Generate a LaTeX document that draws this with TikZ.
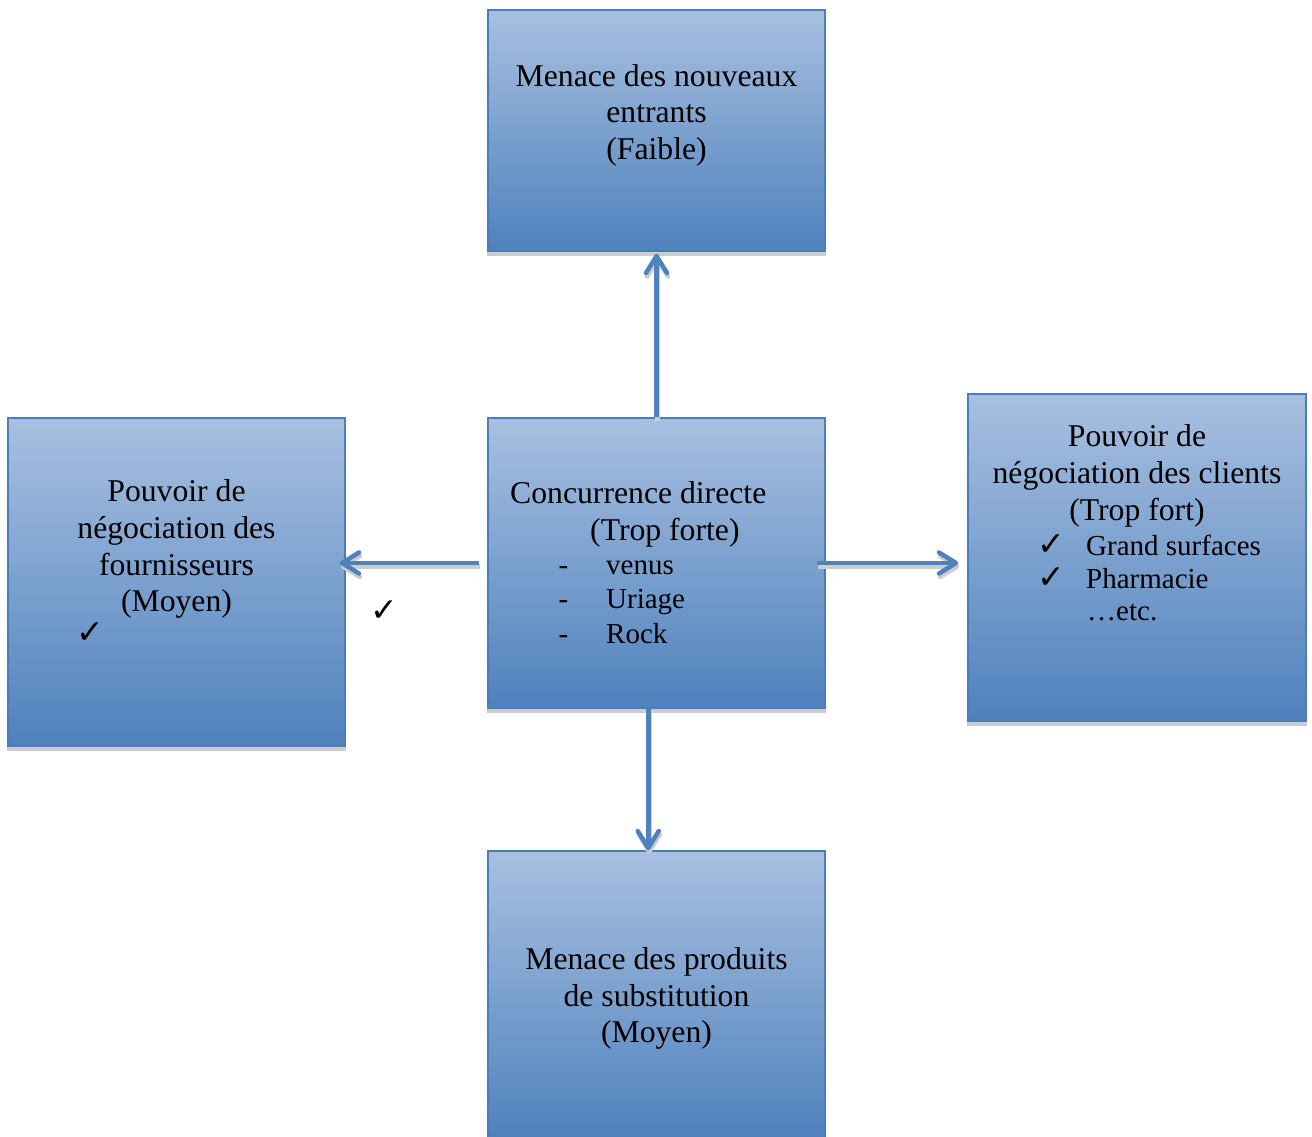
\documentclass[tikz,border=0pt]{standalone}
\usepackage{fontspec}
\setmainfont{Liberation Serif}
\newfontfamily\symfont{DejaVu Sans}
\usetikzlibrary{arrows.meta,backgrounds,calc}

\definecolor{boxtop}{RGB}{168,192,224}
\definecolor{boxbottom}{RGB}{79,129,189}
\definecolor{boxline}{RGB}{74,126,187}
\definecolor{arrowblue}{RGB}{79,129,189}
\definecolor{shadowgray}{RGB}{204,204,204}

\begin{document}
\begin{tikzpicture}[x=1pt,y=-1pt,
  forcebox/.style={draw=boxline, line width=1.5pt, top color=boxtop,
    bottom color=boxbottom, inner sep=0pt, minimum width=337pt},
  conn/.style={draw=arrowblue, line width=4.5pt,
    -{Straight Barb[length=17pt,width=21pt,round]}},
  connshadow/.style={conn, draw=shadowgray,
    transform canvas={shift={(1pt,-3.5pt)}}},
  % multi-line texts are placed by the baseline of their last line
  boxtext/.style={font=\fontsize{31.7}{36.6}\selectfont, align=center,
    anchor=base, inner sep=0pt},
  listitem/.style={font=\fontsize{29}{33}\selectfont, anchor=base west,
    inner sep=0pt},
  checkmk/.style={font=\symfont\fontsize{33}{33}\selectfont,
    anchor=base west, inner sep=0pt}]

\path[use as bounding box] (0,0) rectangle (1312,1136);

% the five forces
\node[forcebox, minimum height=241pt] (top)    at (656.5,130.5) {};
\node[forcebox, minimum height=290pt] (center) at (656.5,563)   {};
\node[forcebox, minimum height=328pt] (left)   at (176.5,582)   {};
\node[forcebox, minimum width=338pt, minimum height=327pt] (right) at (1137,557.5) {};
\node[forcebox, minimum height=289pt] (bottom) at (656.5,995.5) {};

% flat shadows under the boxes
\begin{pgfonlayer}{background}
  \foreach \b in {top,center,left,right,bottom}
    \fill[shadowgray] (\b.south west) rectangle ([yshift=-4pt]\b.south east);
\end{pgfonlayer}

% connector end points
\coordinate (upA)    at (center.north);
\coordinate (upB)    at ($(top.south)+(0,2)$);
\coordinate (leftA)  at ($(center.west)+(-8,0)$);
\coordinate (leftB)  at ($(left.east |- center.west)+(-6,0)$);
\coordinate (rightA) at ($(center.east)+(-9,0)$);
\coordinate (rightB) at ($(right.west |- center.east)+(-9,0)$);
\coordinate (downA)  at ($(center.south)+(-8.25,0)$);
\coordinate (downB)  at ($(bottom.north)+(-8.25,0)$);

% arrow shadows, then arrows
\foreach \a/\b in {upA/upB,leftA/leftB,rightA/rightB,downA/downB}
  \draw[connshadow] (\a) -- (\b);
\foreach \a/\b in {upA/upB,leftA/leftB,rightA/rightB,downA/downB}
  \draw[conn] (\a) -- (\b);

% texts
\node[boxtext] (ttop) at (656.5,159.3) {Menace des nouveaux\\entrants\\(Faible)};

\node[boxtext, anchor=base west] (tc1) at (510,503.3) {Concurrence directe};
\node[boxtext, anchor=base west] (tc2) at (590,540) {(Trop forte)};
\node[listitem] (d1) at (558.5,574)   {-};
\node[listitem] (i1) at (606,574)     {venus};
\node[listitem] (d2) at (558.5,608.3) {-};
\node[listitem] (i2) at (606,608.3)   {Uriage};
\node[listitem] (d3) at (558.5,643.3) {-};
\node[listitem] (i3) at (606,643.3)   {Rock};

\node[boxtext] (tleft) at (176.5,611.7) {Pouvoir de\\négociation des\\fournisseurs\\(Moyen)};
\node[checkmk] (cl) at (76,643) {✓};
\node[checkmk] (cx) at (370,621) {✓};

\node[boxtext] (tright) at (1137,520) {Pouvoir de\\négociation des clients\\(Trop fort)};
\node[checkmk] (cr1) at (1037,555) {✓};
\node[listitem] (r1) at (1086,555) {Grand surfaces};
\node[checkmk] (cr2) at (1037,588) {✓};
\node[listitem] (r2) at (1086,588) {Pharmacie};
\node[listitem] (r3) at (1087,620) {…etc.};

\node[boxtext] (tbottom) at (656.5,1042.7) {Menace des produits\\de substitution\\(Moyen)};
\end{tikzpicture}
\end{document}
